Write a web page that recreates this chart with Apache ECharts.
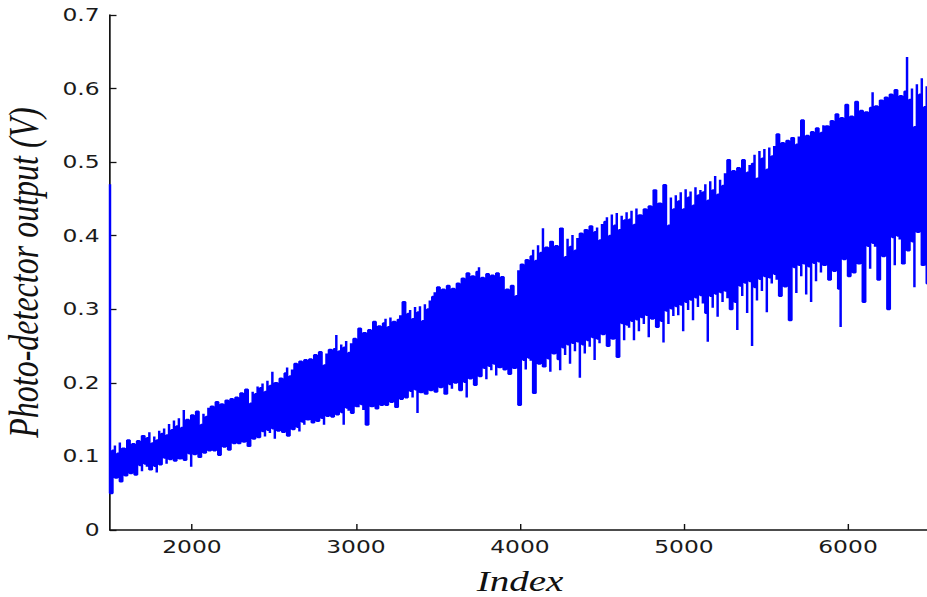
<!DOCTYPE html>
<html>
<head>
<meta charset="utf-8">
<script src="https://cdn.jsdelivr.net/npm/echarts@6/dist/echarts.min.js"></script>
<style>
  html, body { margin: 0; padding: 0; background: #fff; overflow: hidden; }
  /* The figure is laid out narrower and widened horizontally, so glyphs and
     strokes keep the figure's wide aspect. */
  #chart {
    width: 713px; height: 597px;
    transform: scaleX(1.30014); transform-origin: 0 0;
  }
</style>
</head>
<body>
<div id="chart"></div>
<script>
// Photo-detector trace: each entry is one block of 15 samples, stored as the
// block's maximum (upper) and minimum (lower) output voltage.
const START_INDEX = 1500;
const BLOCK = 15;

const upper = [
  0.470,
  0.108,0.115,0.104,0.119,0.111,0.106,0.122,0.113,0.117,0.110,
  0.121,0.116,0.128,0.119,0.125,0.133,0.118,0.127,0.122,0.135,
  0.131,0.138,0.129,0.144,0.136,0.149,0.141,0.152,0.139,0.163,
  0.150,0.145,0.156,0.148,0.161,0.152,0.143,0.158,0.154,0.166,
  0.168,0.162,0.174,0.165,0.171,0.159,0.176,0.169,0.178,0.172,
  0.180,0.175,0.186,0.178,0.191,0.183,0.172,0.188,0.185,0.195,
  0.193,0.199,0.188,0.203,0.196,0.215,0.200,0.192,0.206,0.201,
  0.213,0.221,0.209,0.218,0.226,0.212,0.229,0.223,0.231,0.219,
  0.232,0.226,0.238,0.230,0.242,0.235,0.224,0.240,0.245,0.237,
  0.246,0.265,0.243,0.252,0.248,0.257,0.241,0.254,0.260,0.250,
  0.274,0.262,0.268,0.257,0.272,0.266,0.283,0.270,0.277,0.264,
  0.281,0.287,0.276,0.289,0.283,0.272,0.286,0.292,0.310,0.288,
  0.294,0.299,0.287,0.303,0.296,0.304,0.284,0.307,0.300,0.312,
  0.317,0.323,0.330,0.314,0.327,0.319,0.332,0.308,0.328,0.321,
  0.335,0.326,0.342,0.337,0.349,0.330,0.345,0.338,0.351,0.357,
  0.343,0.335,0.348,0.339,0.346,0.330,0.349,0.340,0.344,0.334,
  0.327,0.320,0.332,0.324,0.318,0.353,0.361,0.350,0.367,0.357,
  0.372,0.381,0.366,0.387,0.377,0.410,0.384,0.368,0.392,0.380,
  0.386,0.376,0.410,0.389,0.371,0.396,0.385,0.401,0.380,0.397,
  0.403,0.390,0.408,0.398,0.413,0.386,0.405,0.411,0.394,0.416,
  0.419,0.425,0.400,0.429,0.414,0.431,0.408,0.427,0.421,0.432,
  0.422,0.434,0.415,0.437,0.428,0.418,0.436,0.425,0.440,0.430,
  0.462,0.432,0.444,0.428,0.469,0.440,0.414,0.452,0.436,0.455,
  0.447,0.459,0.436,0.463,0.452,0.460,0.441,0.466,0.455,0.462,
  0.459,0.470,0.448,0.474,0.462,0.481,0.456,0.476,0.468,0.485,
  0.503,0.475,0.488,0.466,0.492,0.480,0.503,0.472,0.486,0.496,
  0.498,0.510,0.478,0.515,0.505,0.518,0.490,0.520,0.508,0.522,
  0.538,0.512,0.526,0.495,0.529,0.518,0.533,0.476,0.524,0.535,
  0.557,0.521,0.536,0.510,0.541,0.530,0.546,0.505,0.540,0.550,
  0.549,0.528,0.556,0.540,0.565,0.512,0.560,0.548,0.578,0.555,
  0.562,0.540,0.582,0.555,0.570,0.525,0.568,0.552,0.574,0.595,
  0.576,0.558,0.584,0.540,0.588,0.570,0.592,0.565,0.598,0.580,
  0.590,0.562,0.596,0.643,0.585,0.600,0.548,0.606,0.592,0.614,0.575,0.603,0.610
];

const lower = [
  0.050,
  0.078,0.071,0.082,0.066,0.079,0.074,0.085,0.077,0.081,0.075,
  0.084,0.088,0.080,0.090,0.086,0.082,0.091,0.087,0.078,0.089,
  0.093,0.098,0.090,0.096,0.101,0.094,0.099,0.097,0.102,0.095,
  0.100,0.104,0.086,0.103,0.107,0.099,0.109,0.105,0.111,0.108,
  0.112,0.108,0.115,0.102,0.117,0.113,0.119,0.109,0.121,0.118,
  0.122,0.118,0.125,0.120,0.127,0.114,0.129,0.124,0.131,0.126,
  0.130,0.134,0.127,0.136,0.132,0.138,0.124,0.135,0.139,0.133,
  0.138,0.128,0.142,0.137,0.145,0.140,0.134,0.147,0.143,0.150,
  0.150,0.146,0.153,0.148,0.156,0.152,0.143,0.155,0.158,0.154,
  0.161,0.157,0.164,0.160,0.143,0.166,0.162,0.159,0.165,0.168,
  0.167,0.171,0.163,0.143,0.172,0.168,0.174,0.165,0.175,0.170,
  0.176,0.170,0.179,0.174,0.181,0.167,0.183,0.178,0.185,0.180,
  0.184,0.189,0.180,0.191,0.159,0.187,0.193,0.185,0.195,0.190,
  0.196,0.188,0.199,0.194,0.202,0.185,0.203,0.198,0.192,0.200,
  0.204,0.190,0.208,0.201,0.180,0.206,0.211,0.197,0.213,0.209,
  0.214,0.220,0.205,0.223,0.217,0.226,0.210,0.221,0.228,0.218,
  0.224,0.212,0.227,0.220,0.229,0.170,0.223,0.231,0.218,0.234,
  0.230,0.186,0.236,0.226,0.239,0.222,0.241,0.233,0.215,0.240,
  0.245,0.232,0.217,0.248,0.238,0.252,0.226,0.254,0.243,0.256,
  0.207,0.252,0.240,0.258,0.249,0.262,0.231,0.260,0.254,0.266,
  0.268,0.250,0.272,0.260,0.276,0.235,0.270,0.281,0.258,0.279,
  0.275,0.284,0.258,0.286,0.270,0.289,0.280,0.292,0.262,0.287,
  0.290,0.276,0.296,0.284,0.255,0.298,0.280,0.301,0.291,0.304,
  0.292,0.306,0.270,0.310,0.299,0.313,0.285,0.316,0.303,0.319,
  0.308,0.295,0.256,0.318,0.302,0.321,0.290,0.323,0.310,0.325,
  0.315,0.300,0.327,0.310,0.272,0.332,0.318,0.336,0.295,0.338,
  0.250,0.330,0.312,0.341,0.325,0.345,0.296,0.343,0.335,0.348,
  0.340,0.318,0.352,0.331,0.355,0.285,0.348,0.357,0.322,0.360,
  0.345,0.362,0.320,0.358,0.310,0.363,0.338,0.365,0.350,0.360,
  0.366,0.340,0.370,0.352,0.372,0.328,0.276,0.368,0.374,0.345,
  0.375,0.350,0.380,0.362,0.384,0.310,0.378,0.386,0.355,0.390,
  0.385,0.340,0.390,0.372,0.395,0.300,0.388,0.398,0.360,0.400,
  0.395,0.362,0.410,0.380,0.453,0.392,0.330,0.405,0.415,0.360,0.420,0.335,0.412
];

const xTicks = [2000, 3000, 4000, 5000, 6000];
const yTicks = [0, 0.1, 0.2, 0.3, 0.4, 0.5, 0.6, 0.7];

// Each block becomes a vertical stroke from min to max; the stroke direction
// alternates so consecutive blocks join at their shared end.
const trace = [];
for (let i = 0; i < upper.length; i++) {
  const idx = START_INDEX + i * BLOCK;
  if (i % 2 === 0) {
    trace.push([idx, upper[i]], [idx, lower[i]]);
  } else {
    trace.push([idx, lower[i]], [idx, upper[i]]);
  }
}

const chart = echarts.init(document.getElementById('chart'), null, { renderer: 'svg' });

const axisText = { color: '#1a1a1a', fontFamily: 'DejaVu Sans', fontSize: 18 };
const axisInk = '#111111';

chart.setOption({
  animation: false,
  backgroundColor: '#ffffff',
  grid: { left: 84.607, right: -2.31, top: 15, bottom: 67, outerBoundsMode: 'none' },
  xAxis: {
    type: 'value',
    min: 1500,
    max: 6500,
    name: 'Index',
    nameLocation: 'middle',
    nameGap: 36,
    nameTextStyle: {
      fontFamily: 'Liberation Serif', fontStyle: 'italic', fontSize: 30, color: axisInk
    },
    axisLine: { show: true, onZero: false, lineStyle: { color: axisInk, width: 1.6 } },
    axisTick: { show: true, inside: true, length: 6, customValues: xTicks, lineStyle: { color: axisInk, width: 1.1 } },
    axisLabel: Object.assign({ margin: 8, customValues: xTicks, formatter: v => String(v) }, axisText),
    splitLine: { show: false }
  },
  yAxis: {
    type: 'value',
    min: 0,
    max: 0.7,
    name: 'Photo-detector output (V)',
    nameLocation: 'middle',
    nameGap: 50,
    nameTextStyle: {
      fontFamily: 'Liberation Serif', fontStyle: 'italic', fontSize: 32, color: axisInk
    },
    axisLine: { show: true, lineStyle: { color: axisInk, width: 1.3 } },
    axisTick: { show: true, inside: true, length: 5, customValues: yTicks, lineStyle: { color: axisInk, width: 1.3 } },
    axisLabel: Object.assign({ margin: 8, customValues: yTicks, formatter: v => String(+v.toFixed(1)) }, axisText),
    splitLine: { show: false }
  },
  series: [{
    type: 'line',
    data: trace,
    step: 'end',
    showSymbol: false,
    symbol: 'none',
    clip: true,
    lineStyle: { color: '#0000ff', width: 1.9, join: 'bevel' },
    emphasis: { disabled: true }
  }]
});
</script>
</body>
</html>
